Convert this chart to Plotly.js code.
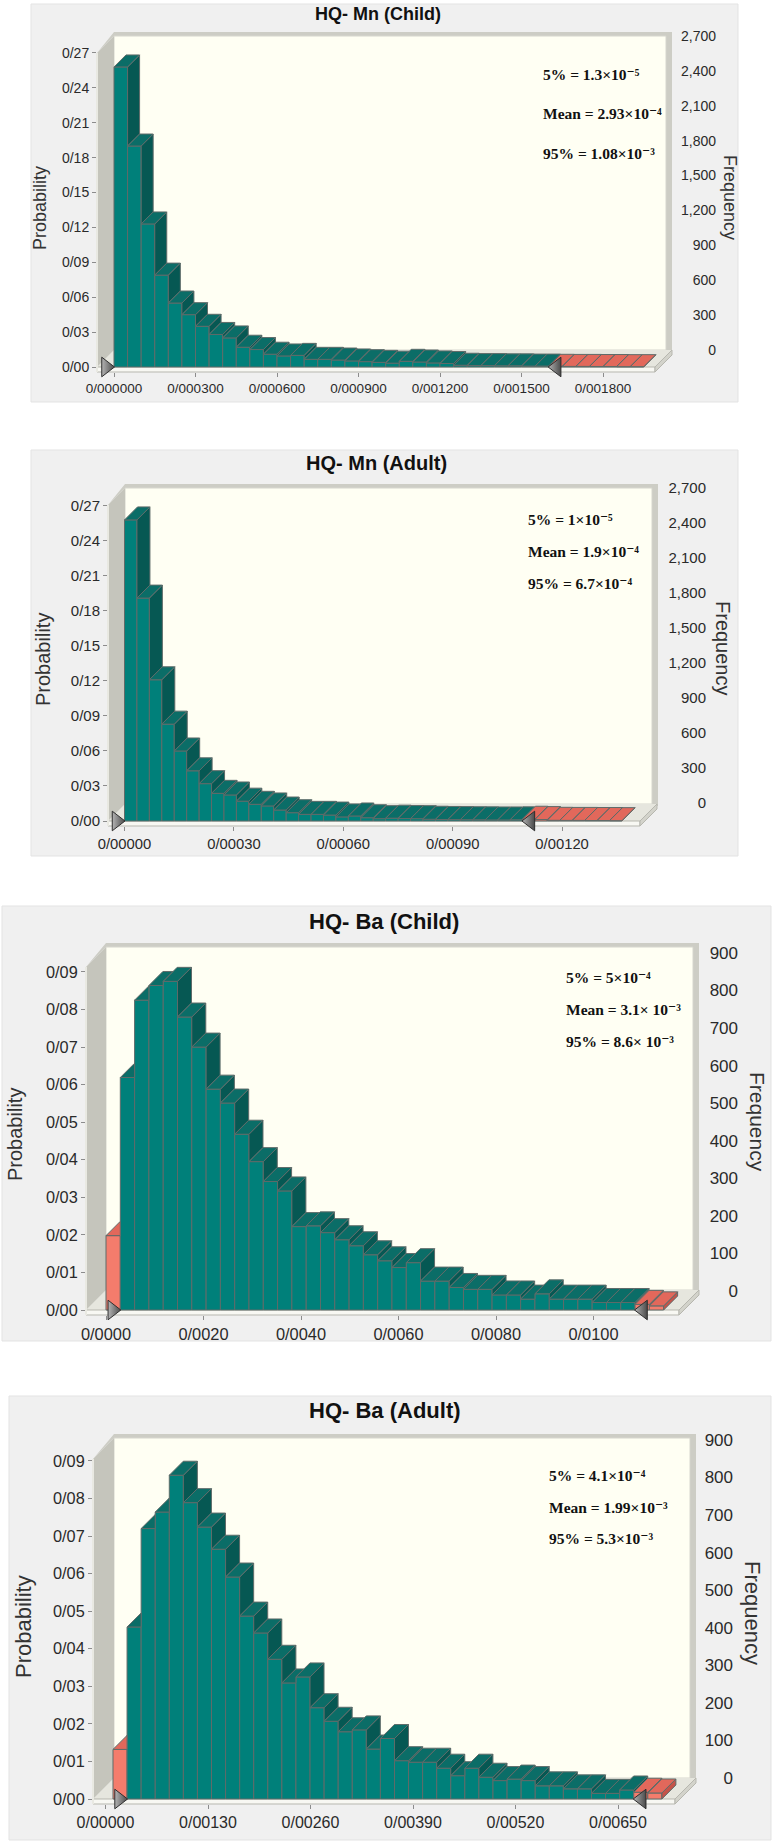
<!DOCTYPE html>
<html>
<head>
<meta charset="utf-8">
<script src="https://cdn.plot.ly/plotly-3.0.1.min.js"></script>
<style>
html, body { margin: 0; padding: 0; background: #ffffff; }
.panel { position: absolute; left: 0; width: 773px; }
</style>
</head>
<body>
<div id="p1" class="panel"></div>
<div id="p2" class="panel"></div>
<div id="p3" class="panel"></div>
<div id="p4" class="panel"></div>
<script>
// ---------------- DATA ----------------
const titles = ["HQ- Mn (Child)", "HQ- Mn (Adult)", "HQ- Ba (Child)", "HQ- Ba (Adult)"];

// probability per bin
const mnChildProb = [0.258, 0.190, 0.123, 0.079, 0.055, 0.045, 0.035, 0.028, 0.025, 0.017,
  0.015, 0.011, 0.0095, 0.010, 0.0066, 0.0066, 0.006, 0.0052, 0.0046, 0.004,
  0.0033, 0.0049, 0.0043, 0.0035, 0.003, 0.0015, 0.0012, 0.0012, 0.001, 0.001,
  0.0008, 0.0008, 0.0006, 0.0005, 0.0005, 0.0004, 0.0004, 0.0003, 0.0003];
const mnAdultProb = [0.258, 0.191, 0.121, 0.083, 0.060, 0.043, 0.032, 0.0237, 0.0223, 0.017,
  0.0143, 0.0129, 0.0094, 0.0071, 0.0057, 0.0057, 0.0051, 0.0035, 0.0043, 0.0028,
  0.002, 0.0024, 0.0021, 0.002, 0.0015, 0.0013, 0.0012, 0.0011, 0.0010, 0.0009,
  0.0009, 0.0010, 0.0015, 0.0012, 0.0006, 0.0005, 0.0005, 0.0004, 0.0004, 0.0003];
const baChildProb = [0.0198, 0.0619, 0.0825, 0.0864, 0.0875, 0.078, 0.070, 0.0588, 0.0551, 0.0468,
  0.0395, 0.0342, 0.0317, 0.0222, 0.0224, 0.0206, 0.0187, 0.0171, 0.0147, 0.0131,
  0.0113, 0.0126, 0.0077, 0.0077, 0.006, 0.0055, 0.0055, 0.004, 0.004, 0.0029,
  0.0043, 0.0029, 0.0029, 0.0029, 0.002, 0.002, 0.002, 0.0015, 0.0011];
const baAdultProb = [0.0132, 0.0458, 0.072, 0.0764, 0.0862, 0.0789, 0.0724, 0.0665, 0.0591, 0.0487,
  0.0442, 0.0372, 0.0309, 0.0325, 0.0243, 0.0207, 0.0179, 0.0184, 0.0133, 0.0161,
  0.0102, 0.0098, 0.0098, 0.0082, 0.0062, 0.0082, 0.0058, 0.0049, 0.0053, 0.0049,
  0.0035, 0.0035, 0.0027, 0.0027, 0.0015, 0.0015, 0.0024, 0.0018, 0.0016];

// bins: [first bin start, bin width]
const mnChildBins = [0, 0.00005];
const mnAdultBins = [0, 0.0000341];
const baChildBins = [0, 0.0002933];
const baAdultBins = [0.000095, 0.0001785];

// number of red (outside certainty) bins: [left, right]
const mnChildTails = [0, 7];
const mnAdultTails = [0, 8];
const baChildTails = [1, 2];
const baAdultTails = [1, 2];

// tick values
const mnChildXTicks = [0, 0.0003, 0.0006, 0.0009, 0.0012, 0.0015, 0.0018];
const mnAdultXTicks = [0, 0.0003, 0.0006, 0.0009, 0.0012];
const baChildXTicks = [0, 0.002, 0.004, 0.006, 0.008, 0.010];
const baAdultXTicks = [0, 0.0013, 0.0026, 0.0039, 0.0052, 0.0065];
const mnProbTicks = [0, 0.03, 0.06, 0.09, 0.12, 0.15, 0.18, 0.21, 0.24, 0.27];
const baProbTicks = [0, 0.01, 0.02, 0.03, 0.04, 0.05, 0.06, 0.07, 0.08, 0.09];
const mnFreqTicks = [0, 300, 600, 900, 1200, 1500, 1800, 2100, 2400, 2700];
const baFreqTicks = [0, 100, 200, 300, 400, 500, 600, 700, 800, 900];

// statistics text
const mnChildStats = ["5% = 1.3×10⁻⁵", "Mean = 2.93×10⁻⁴", "95% = 1.08×10⁻³"];
const mnAdultStats = ["5% = 1×10⁻⁵", "Mean = 1.9×10⁻⁴", "95% = 6.7×10⁻⁴"];
const baChildStats = ["5% = 5×10⁻⁴", "Mean = 3.1× 10⁻³", "95% = 8.6× 10⁻³"];
const baAdultStats = ["5% = 4.1×10⁻⁴", "Mean = 1.99×10⁻³", "95% = 5.3×10⁻³"];

// ---------------- STYLE ----------------
const TEAL = { front: '#00807a', top: '#0b6d67', side: '#065853' };
const RED = { front: '#f47c6c', top: '#e2685b', side: '#c55349' };
const OUTLINE = '#5f6b69';
const SANS = 'Liberation Sans, Arial, sans-serif';
const SERIF = 'Liberation Serif, Times New Roman, DejaVu Serif, serif';
const TICKCOL = '#2a2a2a';

const panels = [
  { id: 'p1', title: titles[0], prob: mnChildProb, bins: mnChildBins, tails: mnChildTails,
    xticks: mnChildXTicks, pticks: mnProbTicks, fticks: mnFreqTicks, stats: mnChildStats, xfmt: '.6f',
    divTop: 0, divH: 425, box: [31, 4, 738, 402], plotBox: [97, 716, 30, 372],
    x0px: 114, sx: 271667, y0px: 367, sy: 1163, f0px: 350, fd: 17, backTop: 36, backRight: 666,
    floorRight: 655, barDepth: 12, titleP: [378, 14, 18], probP: [40, 208, 18], freqP: [730, 197, 18],
    statsP: [541, [74, 113, 153], 15.5], fonts: [14, 13.5, 14] },
  { id: 'p2', title: titles[1], prob: mnAdultProb, bins: mnAdultBins, tails: mnAdultTails,
    xticks: mnAdultXTicks, pticks: mnProbTicks, fticks: mnFreqTicks, stats: mnAdultStats, xfmt: '.5f',
    divTop: 425, divH: 455, box: [31, 450, 738, 856], plotBox: [108, 706, 480, 826],
    x0px: 124.5, sx: 364667, y0px: 821, sy: 1167, f0px: 803, fd: 17, backTop: 488, backRight: 652,
    floorRight: 640, barDepth: 13, titleP: [376, 463, 20], probP: [43, 660, 20], freqP: [723, 648, 20],
    statsP: [526, [519, 551, 583], 15.5], fonts: [15, 14.8, 15] },
  { id: 'p3', title: titles[2], prob: baChildProb, bins: baChildBins, tails: baChildTails,
    xticks: baChildXTicks, pticks: baProbTicks, fticks: baFreqTicks, stats: baChildStats, xfmt: '.4f',
    divTop: 880, divH: 485, box: [2, 906, 771, 1341], plotBox: [86, 738, 940, 1315],
    x0px: 106, sx: 48750, y0px: 1310, sy: 3756, f0px: 1291, fd: 20, backTop: 947, backRight: 693,
    floorRight: 679, barDepth: 14, titleP: [384, 922, 22], probP: [15, 1135, 20], freqP: [757, 1122, 21],
    statsP: [564, [977, 1009, 1041], 15.5], fonts: [16.3, 16.4, 17] },
  { id: 'p4', title: titles[3], prob: baAdultProb, bins: baAdultBins, tails: baAdultTails,
    xticks: baAdultXTicks, pticks: baProbTicks, fticks: baFreqTicks, stats: baAdultStats, xfmt: '.5f',
    divTop: 1365, divH: 477, box: [9, 1396, 771, 1840], plotBox: [93, 733, 1431, 1804],
    x0px: 105.5, sx: 78846, y0px: 1799, sy: 3756, f0px: 1778, fd: 21, backTop: 1438, backRight: 690,
    floorRight: 675, barDepth: 14, titleP: [385, 1411, 22], probP: [23, 1627, 22], freqP: [753, 1613, 22],
    statsP: [547, [1476, 1507, 1538], 15.5], fonts: [16.3, 16, 17] }
];

function draw(c) {
  const div = document.getElementById(c.id);
  div.style.top = c.divTop + 'px';
  div.style.height = c.divH + 'px';
  const [L, R, T, B] = c.plotBox;
  const px2x = p => (p - L) / (R - L);
  const py2y = p => (B - p) / (B - T);
  const xr = [(L - c.x0px) / c.sx, (R - c.x0px) / c.sx];
  const yr = [(c.y0px - B) / c.sy, (c.y0px - T) / c.sy];
  const fr = [(c.f0px - B) / c.sy * 10000, (c.f0px - T) / c.sy * 10000];

  const n = c.prob.length;
  const start = c.bins[0], w = c.bins[1];
  const dxD = c.barDepth / c.sx, dyD = c.barDepth / c.sy;
  const isRed = i => i < c.tails[0] || i >= n - c.tails[1];

  const centers = [], colors = [];
  const faces = { tealTop: [[], []], tealSide: [[], []], redTop: [[], []], redSide: [[], []] };
  const push = (key, pts) => {
    pts.forEach(p => { faces[key][0].push(p[0]); faces[key][1].push(p[1]); });
    faces[key][0].push(pts[0][0]); faces[key][1].push(pts[0][1]);
    faces[key][0].push(null); faces[key][1].push(null);
  };
  for (let i = 0; i < n; i++) {
    const x0 = start + i * w, x1 = x0 + w;
    const y = c.prob[i];
    const yn = i < n - 1 ? c.prob[i + 1] : 0;
    centers.push(x0 + w / 2);
    const red = isRed(i);
    colors.push(red ? RED.front : TEAL.front);
    const h = Math.max(0, Math.min(yn - y, dyD));
    push(red ? 'redTop' : 'tealTop', [[x0, y], [x1, y], [x1, y + h], [x1 + dxD * (1 - h / dyD), y + dyD], [x0 + dxD, y + dyD]]);
    if (y > yn) {
      push(red ? 'redSide' : 'tealSide', [[x1, yn], [x1, y], [x1 + dxD, y + dyD], [x1 + dxD, yn + dyD]]);
    }
  }

  const faceTrace = (key, color) => ({
    type: 'scatter', mode: 'lines', x: faces[key][0], y: faces[key][1],
    fill: 'toself', fillcolor: color, line: { color: OUTLINE, width: 1 },
    hoverinfo: 'skip', showlegend: false
  });

  const grabLo = start + c.tails[0] * w;
  const grabHi = start + (n - c.tails[1]) * w;
  const gOff = 8 / c.sx;

  const traces = [
    { type: 'bar', x: centers, y: c.prob, width: w, marker: { color: colors, line: { color: OUTLINE, width: 1 } },
      hoverinfo: 'skip', showlegend: false, cliponaxis: false },
    faceTrace('tealSide', TEAL.side), faceTrace('tealTop', TEAL.top),
    faceTrace('redSide', RED.side), faceTrace('redTop', RED.top),
    { type: 'scatter', mode: 'markers', x: [grabLo - gOff, grabHi + gOff], y: [0, 0], cliponaxis: false,
      marker: { symbol: ['triangle-right', 'triangle-left'], size: 17, color: '#b4b4b4',
        gradient: { type: 'horizontal', color: '#4a4a4a' }, line: { color: '#2e2e2e', width: 1 } },
      hoverinfo: 'skip', showlegend: false },
    { type: 'scatter', mode: 'markers', x: [xr[0]], y: [c.fticks[0]], yaxis: 'y2',
      marker: { opacity: 0 }, hoverinfo: 'skip', showlegend: false }
  ];

  const rect = (x0, y0, x1, y1, fill, line, lw) => ({
    type: 'rect', xref: 'paper', yref: 'paper', layer: 'below',
    x0: px2x(x0), x1: px2x(x1), y0: py2y(y0), y1: py2y(y1),
    fillcolor: fill, line: { color: line || fill, width: lw || 0 }
  });
  const poly = (pts, fill, line, lw) => ({
    type: 'path', xref: 'paper', yref: 'paper', layer: 'below',
    path: 'M' + pts.map(p => px2x(p[0]).toFixed(5) + ',' + py2y(p[1]).toFixed(5)).join('L') + 'Z',
    fillcolor: fill, line: { color: line || fill, width: lw || 0 }
  });

  const Xf = L, fd = c.fd, Xb = Xf + fd;
  const bt = c.backTop, y0 = c.y0px, bb = y0 - fd, br = c.backRight, fR = c.floorRight, slab = 5;
  const shapes = [
    rect(c.box[0], c.box[1], c.box[2], c.box[3], '#f0f0f0', '#e3e3e3', 1),
    poly([[Xf, bt + fd], [Xb, bt - 4], [br + 6, bt - 4], [br + 6, bb + 2], [br, bb + 2], [br, bt], [Xb, bt]], '#cdcdc5'),
    rect(Xb, bt, br, bb, '#fffff3', '#d6d6ce', 1),
    poly([[Xf, y0], [Xb, bb], [fR + fd, bb], [fR, y0]], '#e6e6de'),
    rect(Xf, y0, fR, y0 + slab, '#f8f8f3', '#b7b7af', 1),
    poly([[fR, y0], [fR + fd, bb], [fR + fd, bb + slab], [fR, y0 + slab]], '#d3d3cb', '#b7b7af', 1),
    poly([[Xf, bt + fd], [Xb, bt], [Xb, bb], [Xf, y0]], '#c5c5bc'),
    { type: 'line', xref: 'paper', yref: 'paper', layer: 'below', x0: px2x(Xf), x1: px2x(Xf),
      y0: py2y(bt + fd), y1: py2y(y0 + slab), line: { color: '#e9e9e2', width: 2 } }
  ];

  const ann = (x, y, text, font, opts) => Object.assign({
    xref: 'paper', yref: 'paper', x: px2x(x), y: py2y(y), text: text, showarrow: false,
    xanchor: 'center', yanchor: 'middle', font: font
  }, opts || {});

  const annotations = [
    ann(c.titleP[0], c.titleP[1], c.title, { family: SANS, size: c.titleP[2], color: '#111', weight: 'bold' }),
    ann(c.probP[0], c.probP[1], 'Probability', { family: SANS, size: c.probP[2], color: '#333' }, { textangle: -90 }),
    ann(c.freqP[0], c.freqP[1], 'Frequency', { family: SANS, size: c.freqP[2], color: '#333' }, { textangle: 90 })
  ];
  c.stats.forEach((s, k) => {
    annotations.push(ann(c.statsP[0], c.statsP[1][k], s,
      { family: SERIF, size: c.statsP[2], color: '#111', weight: 'bold' }, { xanchor: 'left' }));
  });

  const layout = {
    width: 773, height: c.divH,
    margin: { l: L, r: 773 - R, t: T - c.divTop, b: c.divTop + c.divH - B, pad: 0 },
    paper_bgcolor: 'rgba(0,0,0,0)', plot_bgcolor: 'rgba(0,0,0,0)',
    separators: '/,', showlegend: false, hovermode: false, barmode: 'overlay', bargap: 0,
    xaxis: { range: xr, tickvals: c.xticks, tickformat: c.xfmt, ticks: 'outside', ticklen: 4,
      tickcolor: '#8c8c8c', showgrid: false, zeroline: false, showline: false, fixedrange: true,
      tickfont: { family: SANS, size: c.fonts[1], color: TICKCOL } },
    yaxis: { range: yr, tickvals: c.pticks, tickformat: '.2f', ticks: 'outside', ticklen: 4,
      tickcolor: '#8c8c8c', showgrid: false, zeroline: false, showline: false, fixedrange: true,
      tickfont: { family: SANS, size: c.fonts[0], color: TICKCOL } },
    yaxis2: { overlaying: 'y', anchor: 'free', position: 1, side: 'left', range: fr, tickvals: c.fticks,
      tickformat: ',d', ticks: '', showgrid: false, zeroline: false, showline: false, fixedrange: true,
      tickfont: { family: SANS, size: c.fonts[2], color: TICKCOL } },
    shapes: shapes, annotations: annotations
  };
  Plotly.newPlot(div, traces, layout, { staticPlot: true, displayModeBar: false });
}

panels.forEach(draw);
</script>
</body>
</html>
